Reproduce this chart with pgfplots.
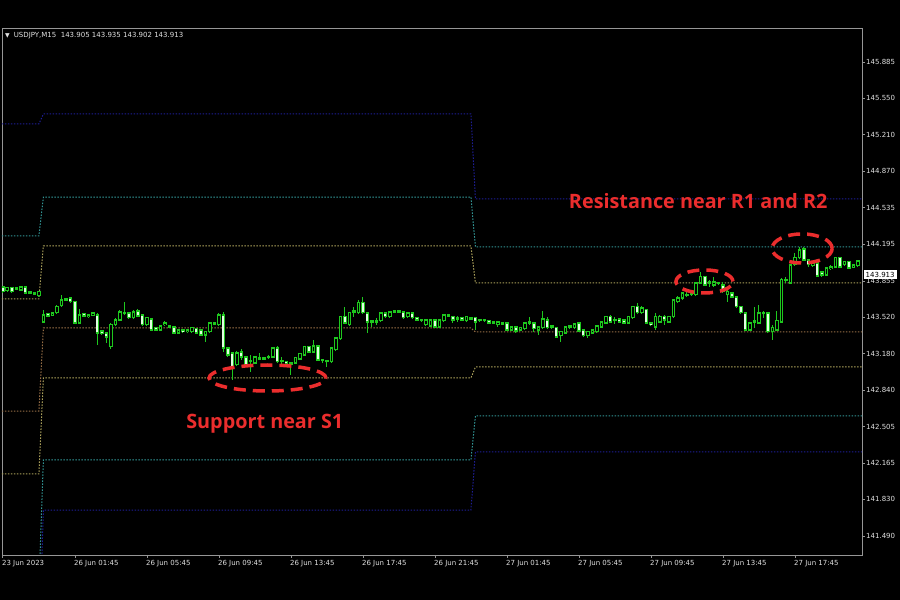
\documentclass[border=0pt]{standalone}
\usepackage{fontspec}
\setmainfont{DejaVu Sans}
\newfontfamily\annofont{Open Sans}
\usepackage{pgfplots}
\pgfplotsset{compat=1.18}
\usepackage{pgfplotstable}
\definecolor{cgreen}{RGB}{30,200,30}
\definecolor{bearfill}{RGB}{225,255,225}
\definecolor{lvlblue}{RGB}{30,30,150}
\definecolor{lvlteal}{RGB}{50,150,150}
\definecolor{lvlkhaki}{RGB}{170,160,90}
\definecolor{lvlbrown}{RGB}{150,110,70}
\definecolor{framegray}{RGB}{150,150,150}
\definecolor{txtgray}{RGB}{225,225,225}
\definecolor{annored}{RGB}{235,45,45}

\pgfplotstableread{
x o h l c
-9 143.799 143.808 143.743 143.753
-8 143.762 143.799 143.753 143.790
-7 143.790 143.799 143.743 143.753
-6 143.790 143.799 143.771 143.780
-5 143.771 143.808 143.762 143.799
-4 143.799 143.808 143.734 143.743
-3 143.753 143.762 143.734 143.743
-2 143.743 143.753 143.725 143.734
-1 143.716 143.762 143.706 143.753
0 143.474 143.586 143.465 143.539
1 143.549 143.558 143.521 143.530
2 143.539 143.567 143.530 143.558
3 143.558 143.632 143.549 143.614
4 143.623 143.725 143.614 143.678
5 143.688 143.697 143.669 143.678
6 143.697 143.706 143.651 143.660
7 143.660 143.669 143.456 143.465
8 143.465 143.595 143.456 143.539
9 143.549 143.558 143.521 143.530
10 143.521 143.549 143.512 143.539
11 143.539 143.567 143.530 143.558
12 143.539 143.558 143.261 143.372
13 143.391 143.400 143.354 143.372
14 143.372 143.382 143.280 143.335
15 143.243 143.465 143.224 143.447
16 143.447 143.512 143.437 143.493
17 143.493 143.586 143.484 143.567
18 143.558 143.660 143.539 143.549
19 143.558 143.567 143.502 143.512
20 143.512 143.586 143.502 143.567
21 143.576 143.595 143.521 143.530
22 143.539 143.549 143.437 143.447
23 143.447 143.521 143.437 143.512
24 143.502 143.512 143.391 143.400
25 143.419 143.428 143.391 143.400
26 143.400 143.447 143.391 143.437
27 143.447 143.484 143.437 143.465
28 143.437 143.447 143.419 143.428
29 143.428 143.437 143.363 143.372
30 143.372 143.410 143.363 143.400
31 143.400 143.410 143.372 143.382
32 143.382 143.410 143.372 143.400
33 143.382 143.428 143.372 143.419
34 143.410 143.419 143.363 143.372
35 143.400 143.410 143.345 143.354
36 143.354 143.391 143.289 143.382
37 143.382 143.474 143.372 143.465
38 143.465 143.474 143.447 143.456
39 143.447 143.558 143.437 143.539
40 143.539 143.567 143.196 143.233
41 143.233 143.243 143.150 143.168
42 143.187 143.196 142.937 143.057
43 143.076 143.206 143.066 143.187
44 143.196 143.224 143.122 143.150
45 143.150 143.159 143.066 143.076
46 143.104 143.168 143.011 143.113
47 143.094 143.159 143.085 143.150
48 143.141 143.187 143.122 143.131
49 143.131 143.150 143.122 143.141
50 143.141 143.168 143.131 143.150
51 143.150 143.243 143.141 143.233
52 143.233 143.252 143.094 143.104
53 143.113 143.150 143.085 143.104
54 143.104 143.113 143.076 143.085
55 143.094 143.104 142.983 143.085
56 143.094 143.150 143.085 143.141
57 143.131 143.187 143.122 143.178
58 143.168 143.252 143.159 143.243
59 143.243 143.252 143.187 143.196
60 143.196 143.308 143.187 143.252
61 143.252 143.261 143.113 143.122
62 143.122 143.131 143.094 143.113
63 143.113 143.122 143.057 143.104
64 143.104 143.243 143.094 143.233
65 143.215 143.335 143.206 143.326
66 143.317 143.530 143.308 143.521
67 143.521 143.614 143.456 143.465
68 143.447 143.567 143.437 143.558
69 143.576 143.614 143.521 143.567
70 143.558 143.678 143.549 143.651
71 143.651 143.706 143.549 143.558
72 143.558 143.567 143.372 143.474
73 143.484 143.493 143.428 143.474
74 143.474 143.512 143.447 143.484
75 143.484 143.567 143.474 143.558
76 143.558 143.567 143.512 143.521
77 143.521 143.576 143.512 143.567
78 143.576 143.586 143.558 143.567
79 143.567 143.586 143.558 143.576
80 143.567 143.576 143.502 143.512
81 143.521 143.567 143.512 143.558
82 143.558 143.567 143.502 143.512
83 143.512 143.521 143.484 143.493
84 143.493 143.502 143.474 143.484
85 143.447 143.502 143.437 143.493
86 143.437 143.502 143.428 143.493
87 143.493 143.502 143.419 143.428
88 143.428 143.502 143.419 143.493
89 143.484 143.549 143.474 143.539
90 143.539 143.549 143.521 143.530
91 143.521 143.530 143.465 143.493
92 143.502 143.530 143.474 143.512
93 143.512 143.521 143.484 143.493
94 143.484 143.530 143.474 143.521
95 143.512 143.521 143.493 143.502
96 143.512 143.521 143.400 143.474
97 143.493 143.502 143.474 143.484
98 143.484 143.502 143.474 143.493
99 143.484 143.493 143.456 143.465
100 143.474 143.484 143.456 143.465
101 143.447 143.484 143.428 143.474
102 143.465 143.474 143.447 143.456
103 143.465 143.474 143.391 143.400
104 143.400 143.437 143.391 143.428
105 143.428 143.437 143.372 143.391
106 143.400 143.428 143.391 143.419
107 143.410 143.474 143.400 143.465
108 143.474 143.521 143.447 143.465
109 143.465 143.474 143.382 143.410
110 143.400 143.437 143.354 143.428
111 143.419 143.576 143.410 143.502
112 143.493 143.521 143.410 143.419
113 143.437 143.447 143.410 143.428
114 143.419 143.428 143.326 143.335
115 143.345 143.391 143.289 143.382
116 143.372 143.437 143.363 143.428
117 143.437 143.447 143.410 143.428
118 143.419 143.465 143.410 143.456
119 143.465 143.474 143.382 143.391
120 143.400 143.410 143.335 143.345
121 143.345 143.391 143.326 143.382
122 143.372 143.410 143.363 143.400
123 143.382 143.447 143.372 143.437
124 143.428 143.484 143.419 143.474
125 143.465 143.530 143.456 143.521
126 143.521 143.539 143.465 143.474
127 143.484 143.521 143.456 143.493
128 143.502 143.512 143.465 143.474
129 143.493 143.502 143.456 143.465
130 143.465 143.530 143.456 143.521
131 143.512 143.623 143.502 143.614
132 143.614 143.651 143.549 143.558
133 143.558 143.623 143.549 143.604
134 143.586 143.595 143.456 143.465
135 143.465 143.474 143.437 143.447
136 143.428 143.558 143.400 143.521
137 143.474 143.539 143.465 143.521
138 143.521 143.539 143.447 143.493
139 143.474 143.530 143.465 143.521
140 143.521 143.688 143.512 143.678
141 143.660 143.716 143.651 143.697
142 143.697 143.753 143.678 143.743
143 143.725 143.753 143.706 143.716
144 143.725 143.743 143.716 143.734
145 143.725 143.845 143.716 143.836
146 143.836 143.938 143.827 143.892
147 143.892 143.901 143.808 143.817
148 143.845 143.864 143.799 143.836
149 143.817 143.892 143.799 143.845
150 143.836 143.845 143.817 143.827
151 143.817 143.845 143.743 143.753
152 143.725 143.790 143.660 143.753
153 143.743 143.753 143.697 143.706
154 143.706 143.716 143.604 143.614
155 143.614 143.623 143.549 143.558
156 143.558 143.567 143.391 143.400
157 143.400 143.474 143.391 143.465
158 143.484 143.614 143.419 143.474
159 143.465 143.632 143.456 143.558
160 143.558 143.576 143.512 143.549
161 143.558 143.567 143.372 143.382
162 143.382 143.447 143.308 143.419
163 143.400 143.576 143.391 143.484
164 143.474 143.882 143.465 143.864
165 143.864 143.892 143.836 143.855
166 143.836 144.012 143.827 144.003
167 144.003 144.114 143.994 144.068
168 144.068 144.170 144.059 144.142
169 144.151 144.170 144.040 144.049
170 144.049 144.059 143.984 144.003
171 143.994 144.031 143.984 144.021
172 144.021 144.031 143.892 143.901
173 143.938 143.947 143.892 143.910
174 143.910 143.984 143.901 143.975
175 143.966 144.003 143.957 143.984
176 143.984 144.077 143.975 144.068
177 144.068 144.077 143.975 143.984
178 144.003 144.040 143.994 144.031
179 144.031 144.040 143.966 143.975
180 143.984 144.012 143.975 144.003
181 143.994 144.049 143.984 144.040
}\candles

\begin{document}
\begin{tikzpicture}[x=1pt,y=1pt]
\path[use as bounding box, fill=black] (0,0) rectangle (900,600);
\begin{axis}[
  at={(2pt,45pt)}, anchor=south west,
  scale only axis, width=860pt, height=527pt,
  xmin=-9.2, xmax=181.9, ymin=141.314, ymax=146.200,
  clip mode=individual,
  axis background/.style={fill=black},
  axis line style={framegray, line width=0.8pt},
  tick style={framegray, line width=0.8pt},
  tick align=outside, major tick length=3pt,
  xtick pos=left, ytick pos=right, yticklabel pos=right,
  xtick={-9,7,23,39,55,71,87,103,119,135,151,167},
  xticklabels={23 Jun 2023, 26 Jun 01:45, 26 Jun 05:45, 26 Jun 09:45, 26 Jun 13:45, 26 Jun 17:45, 26 Jun 21:45, 27 Jun 01:45, 27 Jun 05:45, 27 Jun 09:45, 27 Jun 13:45, 27 Jun 17:45},
  ytick={145.885,145.550,145.210,144.870,144.535,144.195,143.855,143.520,143.180,142.840,142.505,142.165,141.830,141.490},
  yticklabels={145.885,145.550,145.210,144.870,144.535,144.195,143.855,143.520,143.180,142.840,142.505,142.165,141.830,141.490},
  ticklabel style={font=\fontsize{7}{8}\selectfont, text=txtgray},
  xticklabel style={anchor=north west, inner sep=0pt, xshift=-1pt, yshift=-2pt},
  yticklabel style={anchor=west, inner sep=0pt, xshift=1pt},
]
% pivot levels
\addplot[lvlblue, line width=1pt, dash pattern=on 1.5pt off 1.5pt] coordinates {(-9.2,145.310) (-1,145.310) (0,145.403) (95,145.403) (96,144.615) (181.9,144.615)};
\addplot[lvlteal, line width=1pt, dash pattern=on 1.5pt off 1.5pt] coordinates {(-9.2,144.272) (-1,144.272) (0,144.633) (95,144.633) (96,144.170) (181.9,144.170)};
\addplot[lvlkhaki, line width=1pt, dash pattern=on 1.5pt off 1.5pt] coordinates {(-9.2,143.688) (-1,143.688) (0,144.179) (95,144.179) (96,143.836) (181.9,143.836)};
\addplot[lvlbrown, line width=1pt, dash pattern=on 1.5pt off 1.5pt] coordinates {(-9.2,142.649) (-1,142.649) (0,143.419) (95,143.419) (96,143.382) (181.9,143.382)};
\addplot[lvlkhaki, line width=1pt, dash pattern=on 1.5pt off 1.5pt] coordinates {(-9.2,142.065) (-1,142.065) (0,142.955) (95,142.955) (96,143.057) (181.9,143.057)};
\addplot[lvlteal, line width=1pt, dash pattern=on 1.5pt off 1.5pt] coordinates {(-9.2,141.027) (-1,141.027) (0,142.195) (95,142.195) (96,142.603) (181.9,142.603)};
\addplot[lvlblue, line width=1pt, dash pattern=on 1.5pt off 1.5pt] coordinates {(-9.2,140.443) (-1,140.443) (0,141.731) (95,141.731) (96,142.269) (181.9,142.269)};
% wicks
\addplot[draw=none, mark=none, error bars/.cd, y dir=plus, y explicit, error mark=none,
  error bar style={draw=cgreen, line width=1pt, solid}]
  table[x=x, y=l, y error plus expr=\thisrow{h}-\thisrow{l}] {\candles};
% body outline
\addplot[draw=none, mark=none, error bars/.cd, y dir=plus, y explicit, error mark=none,
  error bar style={draw=cgreen, line width=3.8pt, solid}]
  table[x=x, y expr={min(\thisrow{o},\thisrow{c})-0.005}, y error plus expr={abs(\thisrow{o}-\thisrow{c})+0.010}] {\candles};
% bull inner (dark)
\addplot[draw=none, mark=none, error bars/.cd, y dir=plus, y explicit, error mark=none,
  error bar style={draw=black, line width=1.8pt, solid}]
  table[x=x, y expr={min(\thisrow{o},\thisrow{c})+0.005}, y error plus expr={(\thisrow{c}>\thisrow{o})*max(\thisrow{c}-\thisrow{o}-0.010,0)}] {\candles};
% bear inner (light)
\addplot[draw=none, mark=none, error bars/.cd, y dir=plus, y explicit, error mark=none,
  error bar style={draw=bearfill, line width=2pt, solid}]
  table[x=x, y expr={min(\thisrow{o},\thisrow{c})+0.005}, y error plus expr={(\thisrow{o}>\thisrow{c})*max(\thisrow{o}-\thisrow{c}-0.010,0)}] {\candles};
% annotations
\node[font=\annofont\bfseries\fontsize{19.8}{22}\selectfont, text=annored] at (axis cs:145.5,144.596) {Resistance near R1 and R2};
\node[font=\annofont\bfseries\fontsize{19.8}{22}\selectfont, text=annored] at (axis cs:49.2,142.529) {Support near S1};
\draw[annored, line width=3.5pt, dash pattern=on 12pt off 7pt] (axis cs:49.8,142.955) ellipse [x radius=58.5pt, y radius=13pt];
\draw[annored, line width=3.5pt, dash pattern=on 12pt off 7pt] (axis cs:146.9,143.850) ellipse [x radius=28.5pt, y radius=11.5pt];
\draw[annored, line width=3.5pt, dash pattern=on 12pt off 7pt] (axis cs:168.6,144.156) ellipse [x radius=30pt, y radius=14.5pt];
\node[fill=white, text=black, font=\fontsize{7}{8}\selectfont, inner sep=2pt, anchor=west, xshift=1.5pt] at (axis cs:181.9,143.913) {143.913};
\end{axis}
\node[anchor=west, text=txtgray, font=\fontsize{7}{8}\selectfont, inner sep=0pt] at (5,564) {{\fontsize{6}{7}\selectfont▼}\hspace{4pt}USDJPY,M15\ \ 143.905 143.935 143.902 143.913};
\end{tikzpicture}
\end{document}
